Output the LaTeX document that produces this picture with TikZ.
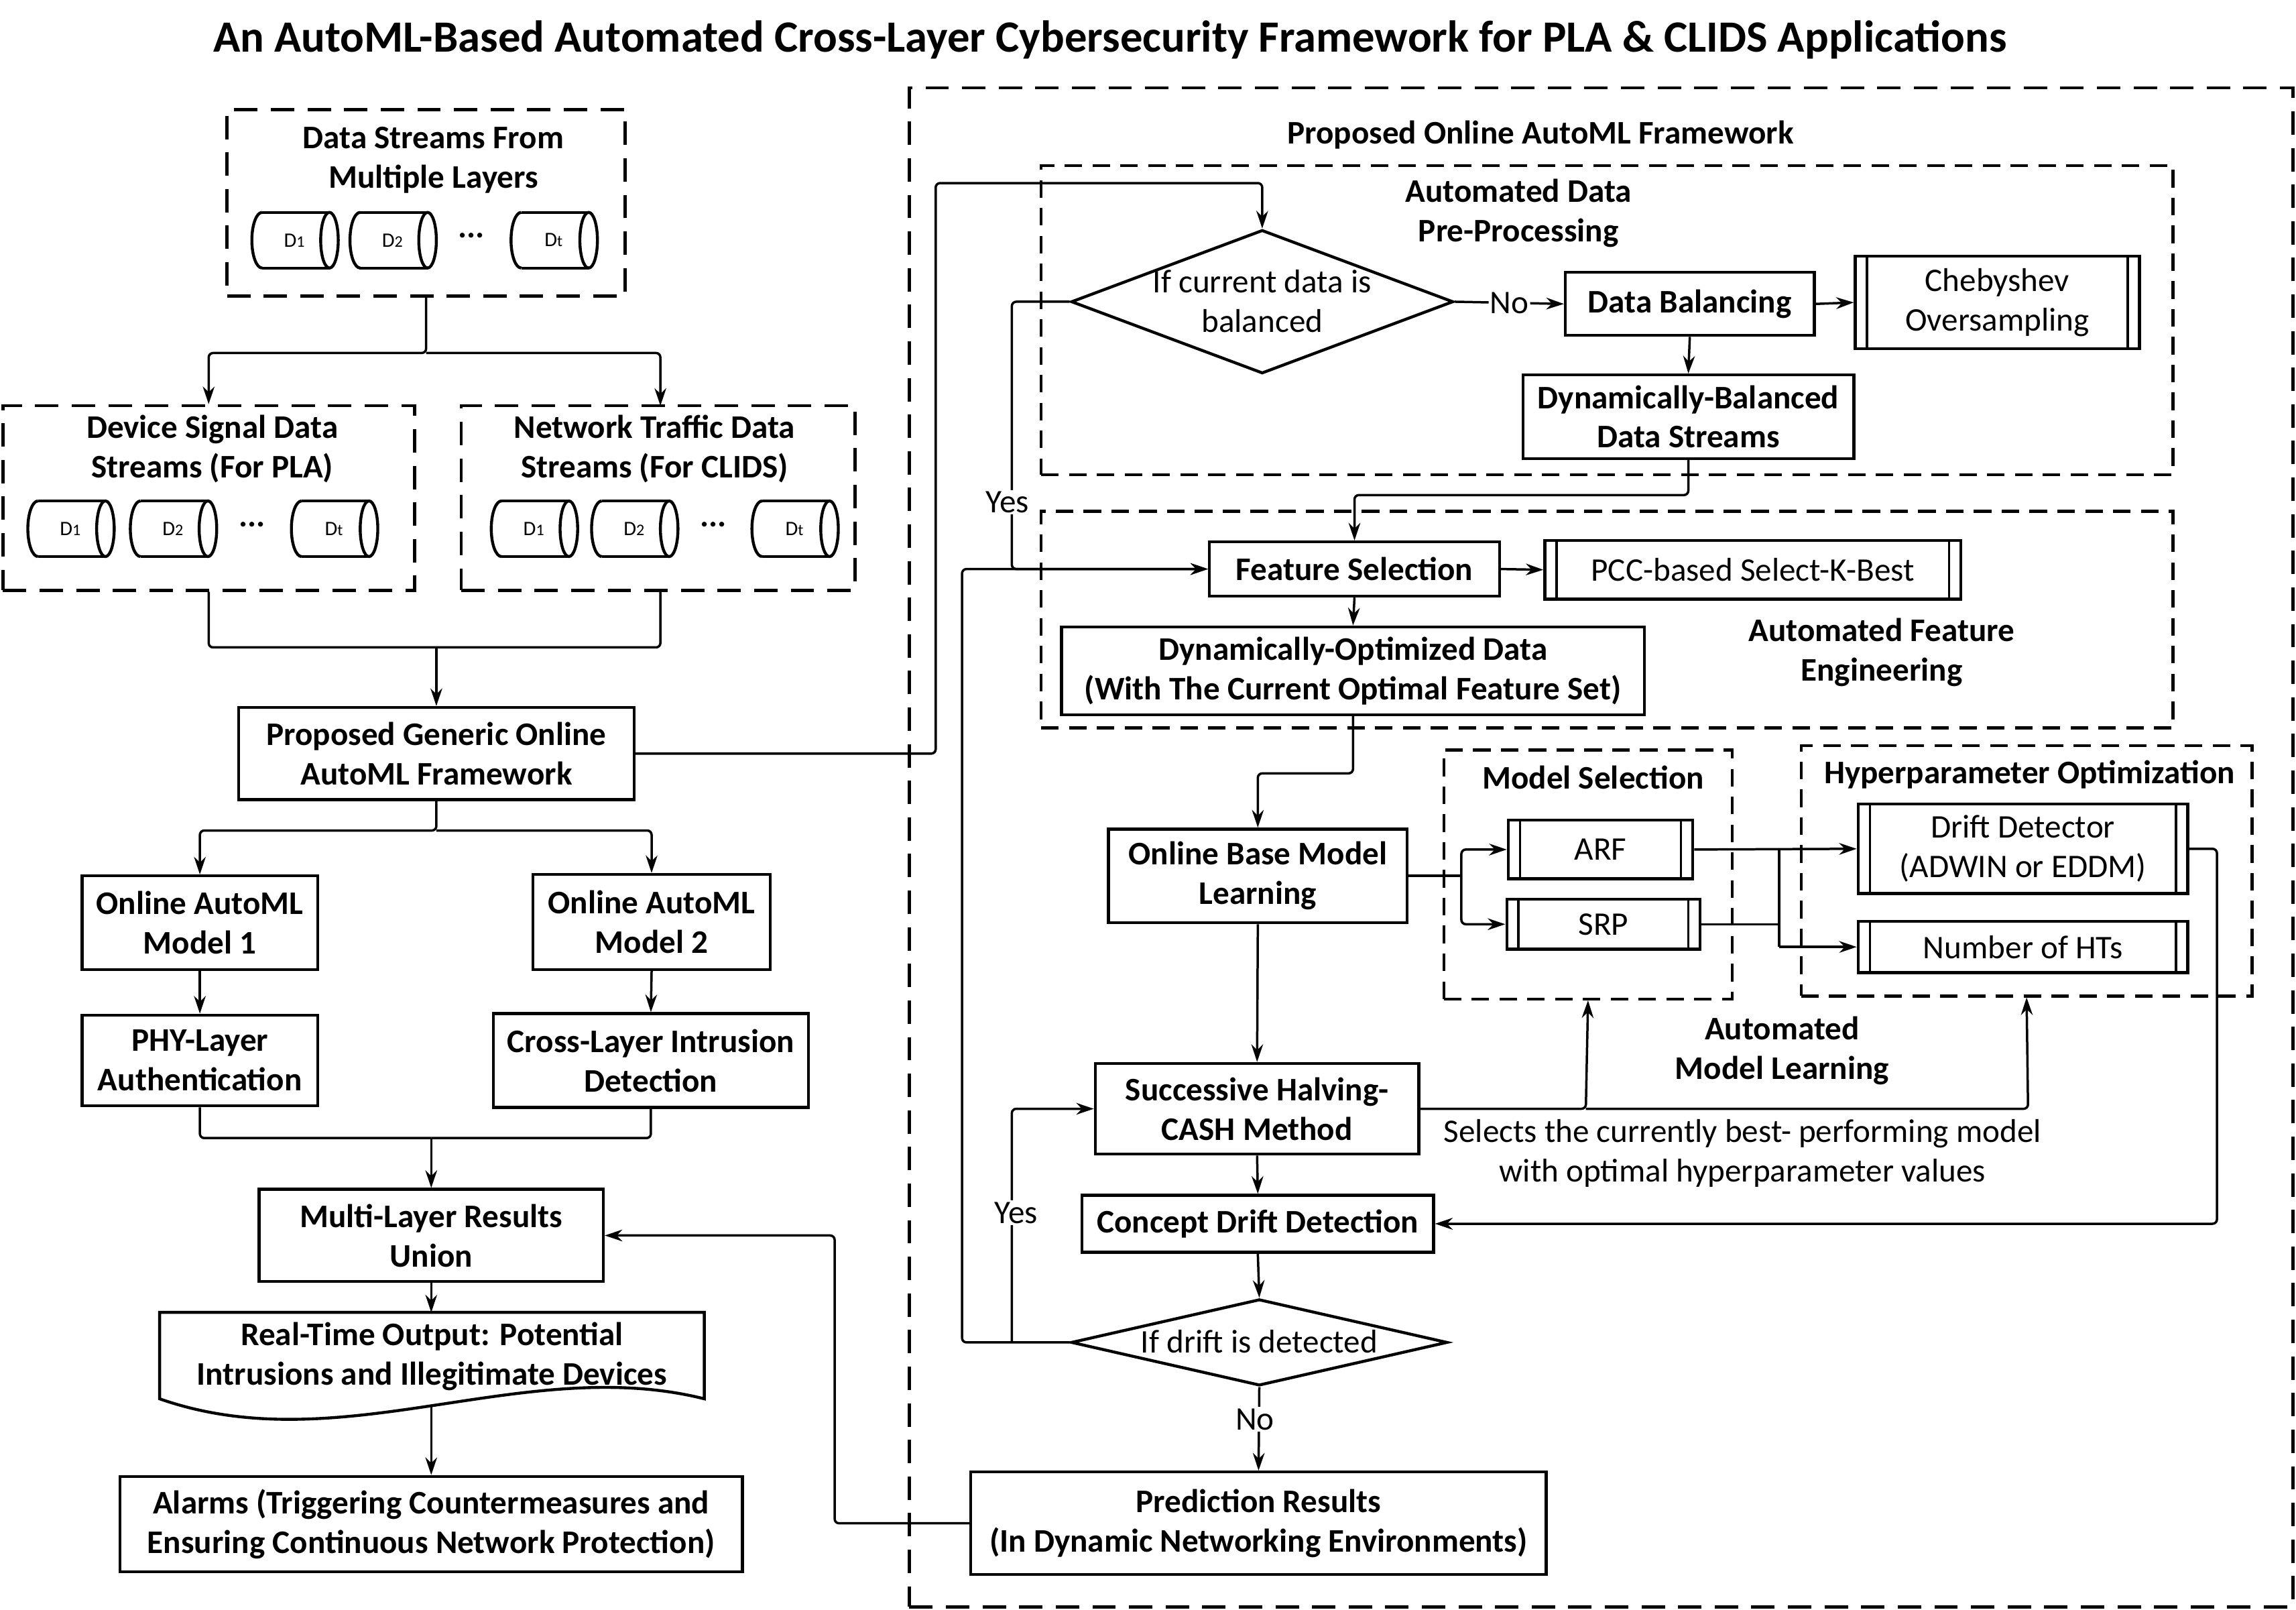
\documentclass[tikz,border=0pt]{standalone}
\usepackage{fontspec}
\setmainfont{Carlito}
\usetikzlibrary{shapes.geometric,arrows.meta,calc}
\newcommand\myfs{\fontsize{22.5}{27}\selectfont}
\newcommand\cyl[1]{{\fontsize{14}{14}\selectfont D\fontsize{11}{11}\selectfont #1}}
\newcommand\cylnode[4]{%
  \node[inner sep=0pt] (#1) at (#2-1,#3) {\cyl{#4}};
  \draw[cyline] (#2-23,#3-19) -- (#2+23,#3-19);
  \draw[cyline] (#2-23,#3+19) -- (#2+23,#3+19);
  \draw[cyline] (#2-23,#3-19) arc[start angle=90, end angle=270, x radius=7pt, y radius=19pt];
  \draw[cyline] (#2+23,#3) ellipse[x radius=6pt, y radius=19pt];
}
\begin{document}
\begin{tikzpicture}[x=1pt,y=-1pt,
  box/.style={draw, line width=2pt, inner sep=0pt, align=center, font=\myfs\bfseries},
  rbox/.style={draw, line width=2pt, inner sep=0pt, align=center, font=\myfs},
  lbl/.style={inner sep=0pt, align=center, font=\myfs\bfseries},
  rlbl/.style={inner sep=1pt, align=center, font=\myfs},
  dlarge/.style={draw, line width=2.2pt, dash pattern=on 16pt off 9pt, inner sep=0pt},
  dsmall/.style={draw, line width=2pt, dash pattern=on 12pt off 7pt, inner sep=0pt},
  db/.style={draw, diamond, line width=2pt, inner sep=0pt},
  cyline/.style={line width=2pt, line join=round},
  dots/.style={inner sep=0pt, font=\myfs\bfseries},
  conn/.style={line width=1.6pt, rounded corners=3pt},
  arr/.style={conn, -{Stealth[length=12pt,width=8pt]}},
]
\useasboundingbox (0,0) rectangle (1568,1099);
% title
\node[lbl, font=\fontsize{30.5}{34}\selectfont\bfseries] (title) at (758,27) {An AutoML-Based Automated Cross-Layer Cybersecurity Framework for PLA \& CLIDS Applications};

% ---------- left column ----------
\node[dlarge, minimum width=272pt, minimum height=127pt] (ds) at (291,138.5) {};
\node[lbl] (dsl) at (296,109.5) {Data Streams From\\Multiple Layers};
\cylnode{c11}{202}{164}{1}
\cylnode{c12}{269}{164}{2}
\node[dots] (c1d) at (322,161) {\textbf{...}};
\cylnode{c1t}{379}{164}{t}

\node[dlarge, minimum width=281pt, minimum height=126pt] (dev) at (142.5,340) {};
\node[lbl] (devl) at (145,306.5) {Device Signal Data\\Streams (For PLA)};
\cylnode{c21}{49}{361}{1}
\cylnode{c22}{119}{361}{2}
\node[dots] (c2d) at (172,358) {\textbf{...}};
\cylnode{c2t}{229}{361}{t}

\node[dlarge, minimum width=269pt, minimum height=126pt] (net) at (449.5,340) {};
\node[lbl] (netl) at (447,306.5) {Network Traffic Data\\Streams (For CLIDS)};
\cylnode{c31}{365.5}{361}{1}
\cylnode{c32}{434}{361}{2}
\node[dots] (c3d) at (487,358) {\textbf{...}};
\cylnode{c3t}{543.5}{361}{t}

\node[box, minimum width=270pt, minimum height=63pt] (pg) at (298,514.5) {Proposed Generic Online\\AutoML Framework};
\node[box, minimum width=161pt, minimum height=64pt] (m1) at (136.5,630) {Online AutoML\\Model 1};
\node[box, minimum width=162pt, minimum height=65pt] (m2) at (445,629.5) {Online AutoML\\Model 2};
\node[box, minimum width=161pt, minimum height=62pt] (phy) at (136.5,724) {PHY-Layer\\Authentication};
\node[box, minimum width=215pt, minimum height=64pt] (cl) at (444.5,724) {Cross-Layer Intrusion\\Detection};
\node[box, minimum width=235pt, minimum height=63pt] (mlr) at (294.5,843.5) {Multi-Layer Results\\Union};
\draw[line width=2pt] (109,896) -- (481,896) -- (481,955) .. controls (357,924) and (233,998.5) .. (109,955) -- cycle;
\node[lbl] (rto) at (295,926) {Real-Time Output: Potential\\Intrusions and Illegitimate Devices};
\coordinate (rtot) at (294.5,896);
\coordinate (rtob) at (294.5,959.5);
\node[box, minimum width=425pt, minimum height=65pt] (alm) at (294.5,1040.5) {Alarms (Triggering Countermeasures and\\Ensuring Continuous Network Protection)};

% left connectors
\coordinate (j1) at (291,241);
\draw[arr] (ds.south) -- (j1) -| (dev.north);
\draw[arr] (j1) -| (451,277);
\coordinate (j2) at (298,442);
\draw[conn] (dev.south) |- (j2);
\draw[conn] (451,403) |- (j2);
\draw[arr] (j2) -- (pg.north);
\coordinate (j3) at (298,567);
\draw[arr] (pg.south) -- (j3) -| (m1.north);
\draw[arr] (j3) -| (m2.north);
\draw[arr] (m1.south) -- (phy.north);
\draw[arr] (m2.south) -- (cl.north);
\coordinate (j4) at (294.5,777);
\draw[conn] (phy.south) |- (j4);
\draw[conn] (cl.south) |- (j4);
\draw[arr] (j4) -- (mlr.north);
\draw[arr] (mlr.south) -- (rtot);
\draw[arr] (rtob) -- (alm.north);

% ---------- right panel ----------
\node[dlarge, minimum width=945pt, minimum height=1037pt] (outer) at (1093.5,578.5) {};
\node[lbl] (outl) at (1052,92) {Proposed Online AutoML Framework};

\node[dsmall, minimum width=773pt, minimum height=211pt] (pre) at (1097.5,218.5) {};
\node[lbl] (prel) at (1037,145.5) {Automated Data\\Pre-Processing};
\node[db, minimum width=261pt, minimum height=98pt] (d1) at (862,206) {};
\node[rlbl, inner sep=0pt] (d1l) at (862,205.5) {If current data is\\balanced};
\node[box, minimum width=170pt, minimum height=43pt] (dbal) at (1154,207.5) {Data Balancing};
\node[rbox, minimum width=194pt, minimum height=63pt] (cheb) at (1364,206.5) {Chebyshev\\Oversampling};
\node[box, minimum width=226pt, minimum height=57pt] (dbs) at (1153,284.5) {Dynamically-Balanced\\Data Streams};

\node[dsmall, minimum width=773pt, minimum height=148pt] (fe) at (1097.5,423) {};
\node[lbl] (fel) at (1285,445.5) {Automated Feature\\Engineering};
\node[box, minimum width=198pt, minimum height=37pt] (fs) at (925,388.5) {Feature Selection};
\node[rbox, minimum width=284pt, minimum height=40pt] (pcc) at (1197,389) {PCC-based Select-K-Best};
\node[box, minimum width=398pt, minimum height=60pt] (dod) at (924,458) {Dynamically-Optimized Data\\(With The Current Optimal Feature Set)};

\node[box, minimum width=204pt, minimum height=64pt] (obm) at (859,598) {Online Base Model\\Learning};
\node[dsmall, minimum width=197pt, minimum height=170pt] (ms) at (1084.5,597) {};
\node[lbl] (msl) at (1088,531) {Model Selection};
\node[rbox, minimum width=126pt, minimum height=40pt] (arf) at (1093,580) {ARF};
\node[rbox, minimum width=132pt, minimum height=34pt] (srp) at (1095,631) {SRP};
\node[dsmall, minimum width=308pt, minimum height=171pt] (hp) at (1384,594.5) {};
\node[lbl] (hpl) at (1386,529) {Hyperparameter Optimization};
\node[rbox, minimum width=225pt, minimum height=61pt] (dd) at (1381.5,579.5) {Drift Detector\\(ADWIN or EDDM)};
\node[rbox, minimum width=225pt, minimum height=35pt] (nht) at (1381.5,646.5) {Number of HTs};

\node[box, minimum width=221pt, minimum height=62pt] (sh) at (858.5,757) {Successive Halving-\\CASH Method};
\node[lbl] (aml) at (1217,717.5) {Automated\\Model Learning};
\node[rlbl] (sel) at (1190,787.5) {Selects the currently best- performing model\\with optimal hyperparameter values};
\node[box, minimum width=240pt, minimum height=39pt] (cdd) at (859,835.5) {Concept Drift Detection};
\node[db, minimum width=257pt, minimum height=59pt] (d2) at (860,916.5) {};
\node[rlbl, inner sep=0pt] (d2l) at (860,916) {If drift is detected};
\node[box, minimum width=393pt, minimum height=70pt] (pr) at (859.5,1040) {Prediction Results\\(In Dynamic Networking Environments)};

% predefined-process side bars
\foreach \n in {cheb,pcc,arf,srp,dd,nht}{
  \draw[line width=1.6pt] ([xshift=9pt]\n.north west) -- ([xshift=9pt]\n.south west);
  \draw[line width=1.6pt] ([xshift=-9pt]\n.north east) -- ([xshift=-9pt]\n.south east);
}

% right connectors
\draw[arr] (pg.east) -- (639,514.5) |- (862,125) -- (d1.north);
\draw[arr] (d1.east) -- (dbal.west) node[rlbl, fill=white, pos=0.5] (no1) {No};
\draw[arr] (dbal.east) -- (cheb.west);
\draw[arr] (dbal.south) -- (dbs.north);
\draw[arr] (dbs.south) -- (1153,338) -| (fs.north);
\draw[arr] (d1.west) -- (691,206) |- (fs.west);
\node[rlbl, fill=white] (yes1) at (688,343) {Yes};
\draw[arr] (d2.west) -- (657,916.5) |- (fs.west);
\draw[arr] (691,916.5) |- (sh.west);
\node[rlbl, fill=white] (yes2) at (694,828) {Yes};
\draw[arr] (fs.east) -- (pcc.west);
\draw[arr] (fs.south) -- (dod.north);
\draw[arr] (dod.south) -- (924,528) -| (obm.north);
\coordinate (j5) at (998,598);
\draw[conn] (obm.east) -- (j5);
\draw[arr] (j5) |- (arf.west);
\draw[arr] (j5) |- (srp.west);
\draw[arr] (arf.east) -- (dd.west);
\draw[conn] (srp.east) -- (1215,631);
\draw[conn] (1215,580) -- (1215,646.5);
\draw[arr] (1215,646.5) -- (nht.west);
\draw[arr] (dd.east) -- (1514,579.5) |- (cdd.east);
\draw[arr] (obm.south) -- (sh.north);
\draw[arr] (sh.east) -- (1083,757) -- (ms.south);
\draw[arr] (1083,757) -- (1385,757) -- (hp.south);
\draw[arr] (sh.south) -- (cdd.north);
\draw[arr] (cdd.south) -- (d2.north);
\draw[arr] (d2.south) -- (pr.north);
\node[rlbl, fill=white] (no2) at (857,969) {No};
\draw[arr] (pr.west) -- (570,1040) |- (mlr.east);
\end{tikzpicture}
\end{document}
